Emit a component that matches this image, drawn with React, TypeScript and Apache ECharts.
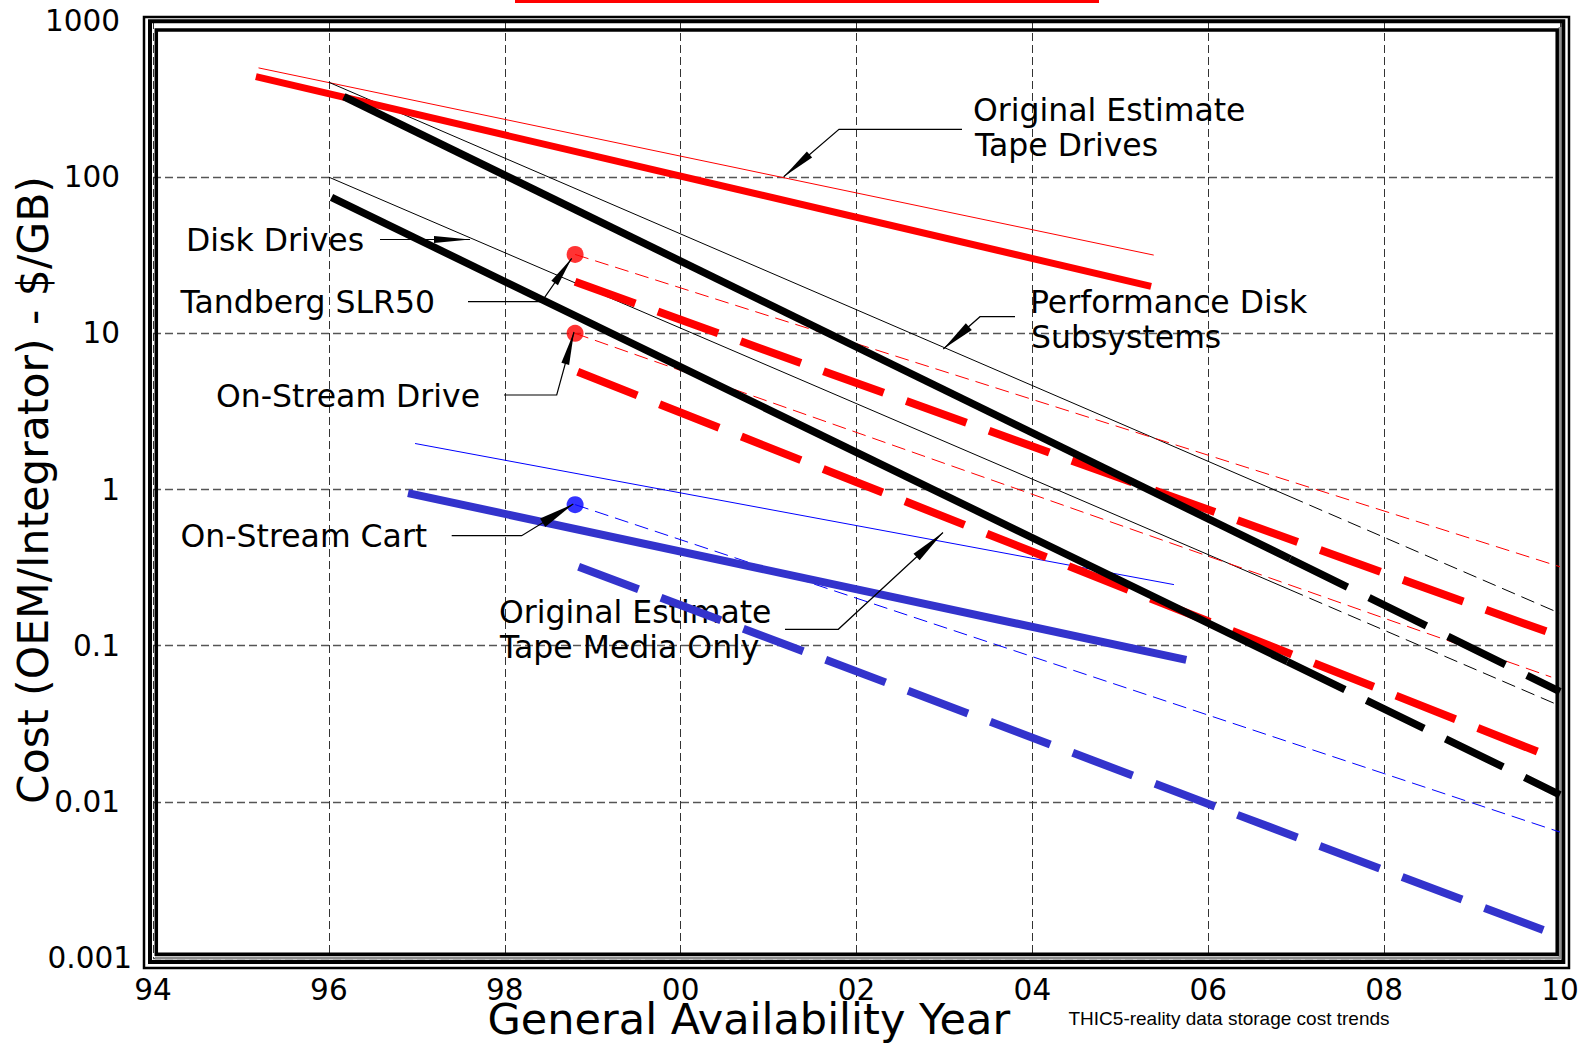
import React, { useEffect, useRef } from 'react';
import * as echarts from 'echarts';

// Axis tick labels
const xTickLabels = ['94', '96', '98', '00', '02', '04', '06', '08', '10'];
const yTickLabels = ['0.001', '0.01', '0.1', '1', '10', '100', '1000'];

// Cost trends, each point is [year, $/GB]
const tapeDriveEstimate: [number, number][] = [[1995.17, 440], [2005.35, 20]];
const tapeDriveEstimateHigh: [number, number][] = [[1995.2, 501], [2005.38, 31.7]];

const perfDiskActual: [number, number][] = [[1996.17, 328], [2006.93, 0.36]];
const perfDiskProjected: [number, number][] = [[2006.93, 0.36], [2010, 0.0508]];
const perfDiskHighActual: [number, number][] = [[1996, 405], [2006.93, 0.9]];
const perfDiskHighProjected: [number, number][] = [[2006.93, 0.9], [2010, 0.161]];

const diskDriveActual: [number, number][] = [[1996.03, 74.2], [2006.9, 0.079]];
const diskDriveProjected: [number, number][] = [[2006.9, 0.079], [2010, 0.0111]];
const diskDriveHighActual: [number, number][] = [[1996, 100], [2006.93, 0.228]];
const diskDriveHighProjected: [number, number][] = [[2006.93, 0.228], [2010, 0.0412]];

const tandbergTrend: [number, number][] = [[1998.8, 21.4], [2009.85, 0.123]];
const tandbergTrendHigh: [number, number][] = [[1998.8, 32], [2010, 0.32]];
const onStreamDriveTrend: [number, number][] = [[1998.83, 5.67], [2009.75, 0.0209]];
const onStreamDriveTrendHigh: [number, number][] = [[1998.8, 10], [2009.9, 0.063]];

const tapeMediaEstimate: [number, number][] = [[1996.9, 0.948], [2005.75, 0.081]];
const tapeMediaEstimateHigh: [number, number][] = [[1996.98, 1.97], [2005.61, 0.246]];
const onStreamCartTrend: [number, number][] = [[1998.84, 0.32], [2009.81, 0.00151]];
const onStreamCartTrendHigh: [number, number][] = [[1998.8, 0.8], [2010, 0.0064]];

// Product price points
const tandbergPoint: [number, number][] = [[1998.8, 32]];
const onStreamDrivePoint: [number, number][] = [[1998.8, 10]];
const onStreamCartPoint: [number, number][] = [[1998.8, 0.8]];

const FONT = "'DejaVu Sans', sans-serif";
const RED = '#ff0000';
const BLACK = '#000000';
const BLUE = '#3333cc';
const BLUE_THIN = '#0000ff';
const THICK_DASH = [64, 24];
const THIN_DASH = [14, 7];

function line(data: [number, number][], color: string, width: number, type: any = 'solid') {
  return {
    type: 'line',
    data,
    symbol: 'none',
    showSymbol: false,
    silent: true,
    lineStyle: { color, width, type, cap: 'butt' },
  };
}

function dot(data: [number, number][], color: string) {
  return {
    type: 'scatter',
    data,
    symbol: 'circle',
    symbolSize: 17,
    silent: true,
    itemStyle: { color },
    z: 5,
  };
}

function arrowHead(tip: number[], toward: number[], len: number, half: number) {
  const dx = toward[0] - tip[0];
  const dy = toward[1] - tip[1];
  const d = Math.hypot(dx, dy);
  const ux = dx / d;
  const uy = dy / d;
  const bx = tip[0] + ux * len;
  const by = tip[1] + uy * len;
  return [
    [tip[0], tip[1]],
    [bx - uy * half, by + ux * half],
    [bx + uy * half, by - ux * half],
  ];
}

function label(
  text: string,
  x: number,
  y: number,
  size = 31.5,
  family = FONT,
  align = 'left',
  extra: any = {},
) {
  return {
    type: 'text',
    x,
    y,
    z: 1,
    silent: true,
    ...extra,
    style: {
      text,
      fontSize: size,
      fontFamily: family,
      fill: '#000',
      align,
      verticalAlign: 'middle',
      textAlign: align,
      textVerticalAlign: 'middle',
      ...(extra.style || {}),
    },
  };
}

// Callout leaders: polyline from the label to the arrow tip
const leaders = [
  { pts: [[962, 129.3], [839, 129.3], [783.7, 176.7]], len: 34, half: 4 },
  { pts: [[1015, 316.7], [980, 316.7], [943.3, 349]], len: 34, half: 4.5 },
  { pts: [[380, 239.5], [470, 239.5]], len: 36, half: 3.5 },
  { pts: [[468, 301.7], [541.7, 301.7], [571.7, 258.3]], len: 30, half: 4 },
  { pts: [[504, 395], [556.7, 395], [574, 332]], len: 33, half: 4 },
  { pts: [[451.7, 535.7], [521.7, 535.7], [573.3, 504]], len: 36, half: 5 },
  { pts: [[785, 629.3], [838.3, 629.3], [943, 532.5]], len: 36, half: 4.5 },
];

function buildGraphic() {
  const els: any[] = [];
  // Triple frame around the plotting area
  els.push({
    type: 'rect', z: 1, silent: true,
    shape: { x: 144, y: 17, width: 1425, height: 951 },
    style: { fill: 'none', stroke: '#000', lineWidth: 2.5 },
  });
  els.push({
    type: 'rect', z: 1, silent: true,
    shape: { x: 150, y: 21.3, width: 1413.3, height: 940.7 },
    style: { fill: 'none', stroke: '#000', lineWidth: 4 },
  });
  els.push({
    type: 'polyline', z: 1, silent: true,
    shape: { points: [[1560, 27], [1560, 958], [155, 958]] },
    style: { fill: 'none', stroke: '#8c8c8c', lineWidth: 3 },
  });
  els.push({
    type: 'rect', z: 1, silent: true,
    shape: { x: 156.3, y: 30, width: 1400.9, height: 924.2 },
    style: { fill: 'none', stroke: '#000', lineWidth: 3.5 },
  });
  // Red bar along the top edge
  els.push({
    type: 'rect', z: 10, silent: true,
    shape: { x: 515, y: 0, width: 584, height: 3 },
    style: { fill: RED },
  });

  // Bottom tick label of the cost axis sits a little to the right of the others
  els.push(label(yTickLabels[0], 132, 958, 29.5, FONT, 'right'));

  // Callout texts
  els.push(label('Original Estimate', 973, 109.5));
  els.push(label('Tape Drives', 975, 145));
  els.push(label('Performance Disk', 1030, 302));
  els.push(label('Subsystems', 1031, 337));
  els.push(label('Disk Drives', 186, 239.5));
  els.push(label('Tandberg SLR50', 180.5, 302));
  els.push(label('On-Stream Drive', 216, 396));
  els.push(label('On-Stream Cart', 180.5, 536));
  els.push(label('Original Estimate', 499, 612));
  els.push(label('Tape Media Only', 500, 647));

  // Leaders and arrowheads
  leaders.forEach((l) => {
    els.push({
      type: 'polyline', z: 10, silent: true,
      shape: { points: l.pts },
      style: { fill: 'none', stroke: '#000', lineWidth: 1.2 },
    });
    const n = l.pts.length;
    els.push({
      type: 'polygon', z: 10, silent: true,
      shape: { points: arrowHead(l.pts[n - 1], l.pts[n - 2], l.len, l.half) },
      style: { fill: '#000' },
    });
  });

  // Axis titles
  els.push(label('General Availability Year', 487.5, 1020, 42, FONT, 'left', {
    scaleX: 1.025,
    style: { lineHeight: 32 },
  }));
  els.push({
    type: 'text', x: 33, y: 490, rotation: Math.PI / 2, z: 1, silent: true,
    style: {
      text: 'Cost (OEM/Integrator) - $/GB)',
      fontSize: 42.5, fontFamily: FONT, fill: '#000',
      align: 'center', verticalAlign: 'middle',
      textAlign: 'center', textVerticalAlign: 'middle',
    },
  });
  // Footnote
  els.push(label('THIC5-reality data storage cost trends', 1068.5, 1018.5, 19, "'Liberation Sans', Arial, sans-serif"));
  return els;
}

export default function App() {
  const ref = useRef<HTMLDivElement>(null);

  useEffect(() => {
    document.body.style.margin = '0';
    const chart = echarts.init(ref.current as HTMLDivElement, null, { renderer: 'svg' });
    chart.setOption({
      animation: false,
      backgroundColor: '#ffffff',
      grid: { left: 153, top: 21, width: 1407, height: 937, containLabel: false },
      xAxis: {
        type: 'value',
        min: 1994,
        max: 2010,
        interval: 2,
        axisLine: { show: false },
        axisTick: { show: false },
        splitLine: { show: true, lineStyle: { color: '#333', width: 1, type: [8, 4] } },
        axisLabel: {
          margin: 19,
          lineHeight: 26,
          fontSize: 29.5,
          fontFamily: FONT,
          color: '#000',
          formatter: (v: number) => xTickLabels[Math.round((v - 1994) / 2)] ?? '',
        },
      },
      yAxis: {
        type: 'log',
        logBase: 10,
        min: 0.001,
        max: 1000,
        splitNumber: 6,
        axisLine: { show: false },
        axisTick: { show: false },
        splitLine: { show: true, lineStyle: { color: '#555', width: 1.4, type: [8, 4] } },
        axisLabel: {
          margin: 33,
          fontSize: 29.5,
          fontFamily: FONT,
          color: '#000',
          showMinLabel: true,
          showMaxLabel: true,
          formatter: (v: number) => {
            const i = Math.round(Math.log10(v)) + 3;
            return i <= 0 ? '' : yTickLabels[i] ?? '';
          },
        },
      },
      graphic: { elements: buildGraphic() },
      series: [
        // thin reference lines
        line(tapeDriveEstimateHigh, RED, 1),
        line(perfDiskHighActual, BLACK, 1),
        line(perfDiskHighProjected, BLACK, 1, THIN_DASH),
        line(diskDriveHighActual, BLACK, 1),
        line(diskDriveHighProjected, BLACK, 1, THIN_DASH),
        line(tandbergTrendHigh, RED, 1, THIN_DASH),
        line(onStreamDriveTrendHigh, RED, 1, THIN_DASH),
        line(tapeMediaEstimateHigh, BLUE_THIN, 1),
        line(onStreamCartTrendHigh, BLUE_THIN, 1, THIN_DASH),
        // thick trend lines
        line(tapeDriveEstimate, RED, 7),
        line(tandbergTrend, RED, 8, THICK_DASH),
        line(onStreamDriveTrend, RED, 8, THICK_DASH),
        line(tapeMediaEstimate, BLUE, 8),
        line(onStreamCartTrend, BLUE, 8, THICK_DASH),
        line(perfDiskActual, BLACK, 7.5),
        line(perfDiskProjected, BLACK, 7.5, THICK_DASH),
        line(diskDriveActual, BLACK, 7.5),
        line(diskDriveProjected, BLACK, 7.5, THICK_DASH),
        // price points
        dot(tandbergPoint, RED),
        dot(onStreamDrivePoint, RED),
        dot(onStreamCartPoint, '#0000ff'),
      ],
    });
    return () => chart.dispose();
  }, []);

  return <div ref={ref} style={{ width: 1585, height: 1045 }} />;
}
